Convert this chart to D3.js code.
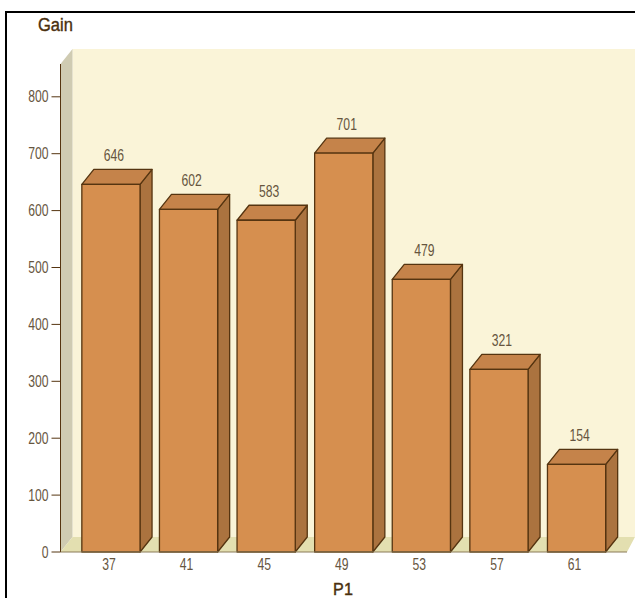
<!DOCTYPE html>
<html>
<head>
<meta charset="utf-8">
<script src="https://cdn.jsdelivr.net/npm/d3@7"></script>
<style>
html, body { margin: 0; padding: 0; background: #fff; overflow: hidden; }
svg { display: block; }
text { font-family: "Liberation Sans", sans-serif; }
</style>
</head>
<body>
<svg id="chart" width="635" height="598"></svg>
<script>
const categories = ["37", "41", "45", "49", "53", "57", "61"];
const gains = [646, 602, 583, 701, 479, 321, 154];
const yTicks = [0, 100, 200, 300, 400, 500, 600, 700, 800];

const colors = {
  wallBack: "#faf4d8", wallSide: "#cfcbb2", floor: "#e3dfb0",
  front: "#d68f4f", top: "#c5834a", side: "#ab733f",
  edge: "#553410", text: "#66553e", title: "#4a2f0e"
};

const svg = d3.select("#chart");
const depthX = 12, depthY = 15;
const x0 = 60.5, x1 = 627, yBase = 552, yTop = 64;

const y = d3.scaleLinear().domain([0, 800]).range([yBase, 96.8]);
const x = d3.scaleBand().domain(categories).range([x0, x1])
  .paddingInner(0.25).paddingOuter(0.275);

const poly = pts => pts.map(p => p.join(",")).join(" ");

// Narrow lettering: regular glyphs squeezed horizontally around their anchor
const narrow = (sel, px, py, sx) => sel
  .attr("transform", (d, i, n) => `translate(${px(d, i, n)},${py(d, i, n)}) scale(${sx},1)`);

// Frame lines along the top and left edges
svg.append("path").attr("d", "M6,598V12H635")
  .attr("fill", "none").attr("stroke", "#000").attr("stroke-width", 2);

// Back wall, side wall and floor
svg.append("rect").attr("x", x0 + depthX).attr("y", yTop - depthY)
  .attr("width", 635 - x0 - depthX).attr("height", yBase - yTop)
  .attr("fill", colors.wallBack);
svg.append("polygon")
  .attr("points", poly([[x0, yTop], [x0 + depthX, yTop - depthY], [x0 + depthX, yBase - depthY], [x0, yBase]]))
  .attr("fill", colors.wallSide);
svg.append("polygon")
  .attr("points", poly([[x0, yBase], [x0 + depthX, yBase - depthY], [635, yBase - depthY], [x1, yBase]]))
  .attr("fill", colors.floor);

// Extruded bars: side and top faces first, front face above them
const barData = categories.map((c, i) => ({ c, v: gains[i] }));
const bars = svg.append("g").selectAll("g")
  .data(barData)
  .join("g")
  .attr("stroke", colors.edge).attr("stroke-width", 1.3).attr("stroke-linejoin", "round");

bars.append("polygon").attr("fill", colors.side).attr("points", d => {
  const r = x(d.c) + x.bandwidth(), t = y(d.v);
  return poly([[r, t], [r + depthX, t - depthY], [r + depthX, yBase - depthY], [r, yBase]]);
});
bars.append("polygon").attr("fill", colors.top).attr("points", d => {
  const l = x(d.c), r = l + x.bandwidth(), t = y(d.v);
  return poly([[l, t], [l + depthX, t - depthY], [r + depthX, t - depthY], [r, t]]);
});
bars.append("rect").attr("fill", colors.front)
  .attr("x", d => x(d.c)).attr("y", d => y(d.v))
  .attr("width", x.bandwidth()).attr("height", d => yBase - y(d.v));

// Value labels above each bar
svg.append("g").selectAll("text")
  .data(barData)
  .join("text")
  .call(narrow, d => x(d.c) + x.bandwidth() / 2 + 3, d => y(d.v) - 23, 0.76)
  .attr("text-anchor", "middle").attr("font-size", 16).attr("fill", colors.text)
  .text(d => d.v);

// Axis lines
svg.append("line").attr("x1", x0).attr("x2", x0).attr("y1", yTop).attr("y2", yBase)
  .attr("stroke", colors.edge).attr("stroke-width", 1);
svg.append("line").attr("x1", x0).attr("x2", x1).attr("y1", yBase).attr("y2", yBase)
  .attr("stroke", "#8a7a58").attr("stroke-width", 1);

// Vertical axis ticks and labels
const yTick = svg.append("g").selectAll("g").data(yTicks).join("g")
  .attr("transform", d => `translate(0,${y(d)})`);
yTick.append("line").attr("x1", x0 - 9).attr("x2", x0)
  .attr("stroke", colors.edge).attr("stroke-width", 1);
yTick.append("text")
  .attr("transform", `translate(${x0 - 12},0) scale(0.76,1)`).attr("dy", "0.35em")
  .attr("text-anchor", "end").attr("font-size", 16).attr("fill", colors.text)
  .text(d => d);

// Category labels
svg.append("g").selectAll("text").data(categories).join("text")
  .call(narrow, d => x(d) + x.bandwidth() / 2 - 2, () => yBase + 18, 0.76)
  .attr("text-anchor", "middle").attr("font-size", 16).attr("fill", colors.text)
  .text(d => d);

// Axis titles
svg.append("text").attr("transform", "translate(38,31) scale(0.87,1)").attr("font-size", 19)
  .attr("stroke", colors.title).attr("stroke-width", 0.4)
  .attr("fill", colors.title).text("Gain");
svg.append("text").attr("transform", "translate(343,595) scale(0.95,1)").attr("text-anchor", "middle")
  .attr("font-size", 17).attr("stroke", colors.title).attr("stroke-width", 0.4)
  .attr("fill", colors.title).text("P1");
</script>
</body>
</html>
